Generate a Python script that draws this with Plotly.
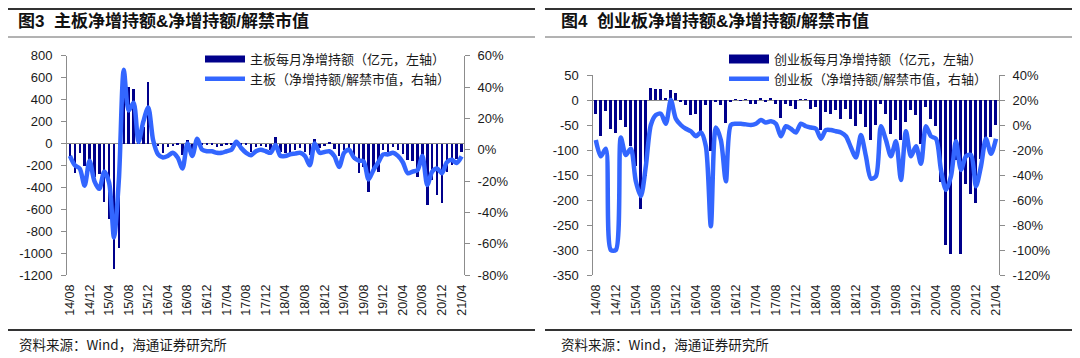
import plotly.graph_objects as go

# ---------------- data ----------------
months = []
_y, _m = 2014, 8
for _ in range(81):
    months.append(f"{_y % 100:02d}/{_m:02d}")
    _m += 1
    if _m > 12:
        _m, _y = 1, _y + 1

x_tick_labels = ["14/08", "14/12", "15/04", "15/08", "15/12", "16/04", "16/08", "16/12",
                 "17/04", "17/08", "17/12", "18/04", "18/08", "18/12", "19/04", "19/08",
                 "19/12", "20/04", "20/08", "20/12", "21/04"]

# 主板每月净增持额（亿元）
main_net = [-112, -270, -88, -200, -150, -300, -280, -535, -690, -1140, -950,
            600, 515, 497, 20, 150, 563,
            -5, -20, -82, -30, -25, -15, -105, 35, -60, 20, -5, -10, -5, -30, -25, -10, -5,
            30, -15, -10, -73, -30, -25,
            -33, -58, 64, -73, -82, -88, -58, -43, -73, -100, 40, -43, -20, 10, -45, -110,
            -60, -50, -150, -270, -210, -440, -256, -256, -60, -73, -27, -58, -91, -150,
            -160, -300, -190, -560, -330, -470, -545, -256, -195, -140, -75]
# 主板 净增持额/解禁市值 (%)
main_ratio = [-4, -10, -12, -23, -7, -20, -25, -14, -21, -56,
              -19, 51, 25, 30, 5, 18, 27, 6, -3, -5,
              -4, -2, -5, -12, 4, -4, 7, 0, -1, -1,
              -2, -2, -1, 0, 5, 1, -2, -3.5, -1, 0,
              -1, -2, 3, -4, -4, -3, -2.5, -2, -4, -10,
              4, -2, -1.5, -1, -4, -11, -2, 0, -5, -7,
              -7.5, -19, -13, -8, -3, -3, -2, -4, -8, -15,
              -14, -13, -4, -22.5, -14, -12, -15, -8, -6.5, -8.5, -4.3]

# 创业板每月净增持额（亿元）
gem_net = [-27, -71, -21, -57, -65, -40, -53, -92, -132, -217, -151,
           25, 23, 23, 5, 21, 15, -3, -9, -30, -28, -63, -10, -102, -4, -10, -45,
           -3, 1, -2, 1, -8, -7, 5, -3, 3, -7, -35, -7, -12, -17,
           2, 1, -17, -13, -60, -23, -27, -20, -37, -17, -37, -52, -27, -53, -80, -49,
           -7, -27, -67, -40, -80, -43, -20, -30, -87, -13, -37, -52, -163, -290, -307,
           -120, -307, -167, -188, -205, -117, -80, -73, -50]
# 创业板 净增持额/解禁市值 (%)
gem_ratio = [-12, -25, -19, -100, -100, -10, -24, -19, -45, -57, -33,
             0, 8, 9, 1, 20, 5, 0, -3, -5, -9, -6, -17, -81, -2, -12, -45,
             0, 1, 1, 0.5, 0, 1, 4, 2, 3, 1, -9, -1, -3, -6,
             1, -1, -2, -3, -11, -4, -4, -5, -6, -9, -18, -26, -8, -25, -43, -41,
             -1, -12, -25, -13, -44, -5, -25, -17, -31, -1, -9, -11, -36, -52, -41,
             -13, -36, -25, -24, -49, -33, -11, -23, -11]

left1_ticks = [800, 600, 400, 200, 0, -200, -400, -600, -800, -1000, -1200]
right1_ticks = [60, 40, 20, 0, -20, -40, -60, -80]
left2_ticks = [50, 0, -50, -100, -150, -200, -250, -300, -350]
right2_ticks = [40, 20, 0, -20, -40, -60, -80, -100, -120]

title1 = "图3\u00a0\u00a0主板净增持额&amp;净增持额/解禁市值"
title2 = "图4\u00a0\u00a0创业板净增持额&amp;净增持额/解禁市值"
leg1_bar = "主板每月净增持额（亿元，左轴）"
leg1_line = "主板（净增持额/解禁市值，右轴）"
leg2_bar = "创业板每月净增持额（亿元，左轴）"
leg2_line = "创业板（净增持额/解禁市值，右轴）"
source = "资料来源：Wind，海通证券研究所"

# ---------------- style ----------------
# The page body has an 8px margin, so the figure is drawn 8px right/down of the
# window origin; positions below are given in window pixels and converted.
OFF = 8
W, H = 1080 - OFF, 358 - OFF
BAR = "#00008B"
LINE = "#3366FF"
AX = "#8C8C8C"
TXT = "#1a1a1a"
LAT = "Liberation Sans, Arial, Noto Sans CJK SC"
CJK = "Noto Sans CJK SC, Liberation Sans"


def px(x):
    return (x - OFF) / W


def py(y):
    return 1 - (y - OFF) / H


fig = go.Figure()

# panel 1
fig.add_trace(go.Bar(x=months, y=main_net, marker=dict(color=BAR, line=dict(width=0)),
                     width=0.5, xaxis="x", yaxis="y", showlegend=False))
fig.add_trace(go.Scatter(x=[months[0]], y=[None], mode="lines", name=leg1_bar,
                         line=dict(color=BAR, width=7), xaxis="x", yaxis="y", legend="legend"))
fig.add_trace(go.Scatter(x=months, y=main_ratio, mode="lines", name=leg1_line,
                         line=dict(color=LINE, width=4.5, shape="spline", smoothing=0.8),
                         xaxis="x", yaxis="y2", legend="legend"))

# panel 2
fig.add_trace(go.Bar(x=months, y=gem_net, marker=dict(color=BAR, line=dict(width=0)),
                     width=0.65, xaxis="x2", yaxis="y3", showlegend=False))
fig.add_trace(go.Scatter(x=[months[0]], y=[None], mode="lines", name=leg2_bar,
                         line=dict(color=BAR, width=9), xaxis="x2", yaxis="y3", legend="legend2"))
fig.add_trace(go.Scatter(x=months, y=gem_ratio, mode="lines", name=leg2_line,
                         line=dict(color=LINE, width=4.5, shape="spline", smoothing=0.8),
                         xaxis="x2", yaxis="y4", legend="legend2"))

xcommon = dict(type="category", tickvals=x_tick_labels, ticktext=x_tick_labels,
               tickangle=-90, tickfont=dict(family=LAT, size=12.5, color=TXT),
               showline=False, ticks="", showgrid=False, zeroline=False,
               ticklabelstandoff=6, fixedrange=True, automargin=False)
ycommon = dict(showline=True, linecolor=AX, linewidth=1, ticks="outside", ticklen=5,
               tickcolor=AX, tickwidth=1, showgrid=False, automargin=False,
               tickfont=dict(family=LAT, size=13, color=TXT), fixedrange=True)

dom_y1 = [py(275), py(55.7)]
dom_y2 = [py(275), py(75)]

fig.update_layout(
    template="none",
    width=W, height=H,
    margin=dict(l=0, r=0, t=0, b=0, pad=0, autoexpand=False),
    paper_bgcolor="white", plot_bgcolor="white",
    bargap=0,
    xaxis=dict(domain=[px(67), px(464)], anchor="y", range=[-0.6, 80.5], **xcommon),
    yaxis=dict(domain=dom_y1, anchor="x", range=[-1200, 800],
               tickvals=left1_ticks, ticktext=[str(v) for v in left1_ticks],
               zeroline=True, zerolinecolor=AX, zerolinewidth=1, ticklabelstandoff=6,
               **ycommon),
    yaxis2=dict(overlaying="y", side="right", anchor="x", range=[-80, 60],
                tickvals=right1_ticks, ticktext=[f"{v}%" for v in right1_ticks],
                zeroline=False, ticklabelstandoff=5, **ycommon),
    xaxis2=dict(domain=[px(593.3), px(999)], anchor="y3", range=[-0.5, 80.6], **xcommon),
    yaxis3=dict(domain=dom_y2, anchor="x2", range=[-350, 50],
                tickvals=left2_ticks, ticktext=[str(v) for v in left2_ticks],
                zeroline=True, zerolinecolor=AX, zerolinewidth=1, ticklabelstandoff=6,
                **ycommon),
    yaxis4=dict(overlaying="y3", side="right", anchor="x2", range=[-120, 40],
                tickvals=right2_ticks, ticktext=[f"{v}%" for v in right2_ticks],
                zeroline=False, ticklabelstandoff=5, **ycommon),
    legend=dict(x=px(200), y=py(44), xanchor="left", yanchor="top",
                bgcolor="rgba(0,0,0,0)", borderwidth=0, itemwidth=40,
                font=dict(family=CJK, size=13, color=TXT), traceorder="normal"),
    legend2=dict(x=px(724), y=py(44), xanchor="left", yanchor="top",
                 bgcolor="rgba(0,0,0,0)", borderwidth=0, itemwidth=40,
                 font=dict(family=CJK, size=13, color=TXT), traceorder="normal"),
)

shapes = []
for x0, x1 in [(8, 535), (545, 1077)]:
    shapes.append(dict(type="line", xref="paper", yref="paper", x0=px(x0), x1=px(x1),
                       y0=py(9), y1=py(9), line=dict(color="#333333", width=2)))
    shapes.append(dict(type="line", xref="paper", yref="paper", x0=px(x0), x1=px(x1),
                       y0=py(37), y1=py(37), line=dict(color="#666666", width=1)))
    shapes.append(dict(type="line", xref="paper", yref="paper", x0=px(x0), x1=px(x1),
                       y0=py(330), y1=py(330), line=dict(color="#333333", width=2)))
fig.update_layout(shapes=shapes)

annotations = []
for x0, t in [(16, title1), (559, title2)]:
    annotations.append(dict(text=f"<b>{t}</b>", xref="paper", yref="paper", x=px(x0), y=py(21),
                            xanchor="left", yanchor="middle", showarrow=False,
                            font=dict(family=LAT, size=17, color="#111111")))
for x0 in [17, 559]:
    annotations.append(dict(text=source, xref="paper", yref="paper", x=px(x0), y=py(344),
                            xanchor="left", yanchor="middle", showarrow=False,
                            font=dict(family=CJK, size=13.5, color=TXT)))
fig.update_layout(annotations=annotations)

fig.write_html("out.html")
